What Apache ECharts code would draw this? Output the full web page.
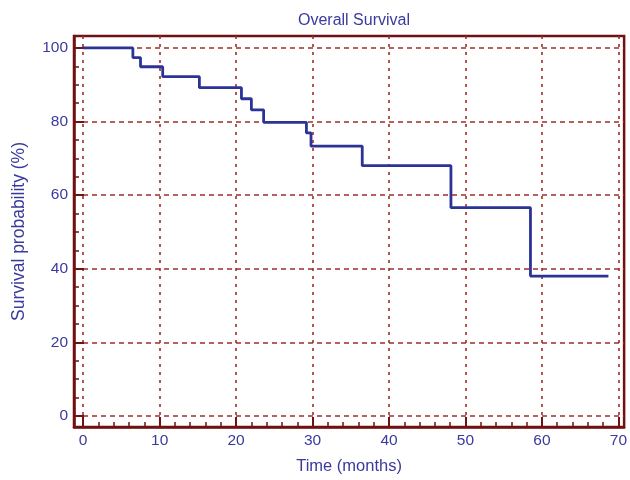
<!DOCTYPE html>
<html>
<head>
<meta charset="utf-8">
<script src="https://cdn.jsdelivr.net/npm/echarts@6/dist/echarts.min.js"></script>
<style>html,body{margin:0;padding:0;background:#fff}#c{width:630px;height:480px}</style>
</head>
<body>
<div id="c"></div>
<script>
// Kaplan-Meier step data (time in months, survival %)
var times    = [0, 6.5, 7.5, 10.4, 15.2, 20.7, 22.0, 23.6, 29.2, 29.8, 36.5, 48.1, 58.5, 68.7];
var survival = [100, 97.4, 94.9, 92.2, 89.2, 86.2, 83.2, 79.8, 76.9, 73.3, 68.0, 56.6, 38.0, 38.0];

var xTicks = [0, 10, 20, 30, 40, 50, 60, 70];
var xMinorTicks = [2, 4, 6, 8, 12, 14, 16, 18, 22, 24, 26, 28, 32, 34, 36, 38, 42, 44, 46, 48, 52, 54, 56, 58, 62, 64, 66, 68];
var yTicks = [0, 20, 40, 60, 80, 100];
var yMinorTicks = [5, 10, 15, 25, 30, 35, 45, 50, 55, 65, 70, 75, 85, 90, 95];

var titleText = 'Overall Survival';
var xName = 'Time (months)';
var yName = 'Survival probability (%)';

var textColor = '#3a3a9e';
var frameColor = '#701212';
var gridColor = '#9e2e28';
var lineColor = '#2c3396';
var font = 'Arial, "Liberation Sans", sans-serif';

var data = times.map(function (t, i) { return [t, survival[i]]; });

var chart = echarts.init(document.getElementById('c'));
chart.setOption({
  animation: false,
  backgroundColor: '#ffffff',
  title: {
    text: titleText,
    left: 349, top: 8, textAlign: 'center',
    textStyle: { color: textColor, fontSize: 16, fontWeight: 'normal', fontFamily: font }
  },
  grid: {
    left: 74, right: 4, top: 36, bottom: 52,
    show: true, borderColor: frameColor, borderWidth: 2.5, backgroundColor: 'transparent'
  },
  xAxis: [{
    type: 'value', min: -1.2, max: 70.75, position: 'bottom',
    name: xName, nameLocation: 'middle', nameGap: 31,
    nameTextStyle: { color: textColor, fontSize: 16.5, fontFamily: font },
    axisLine: { show: true, onZero: false, lineStyle: { color: frameColor, width: 2.5 } },
    axisTick: { show: true, inside: true, length: 10, customValues: xTicks, lineStyle: { color: frameColor, width: 2 } },
    axisLabel: { customValues: xTicks, color: textColor, fontSize: 15.5, fontFamily: font, margin: 6 },
    splitLine: { show: true, lineStyle: { color: gridColor, width: 1.6, type: [3, 5] } }
  }, {
    type: 'value', min: -1.2, max: 70.75, position: 'bottom',
    axisLine: { show: false, onZero: false },
    axisTick: { show: true, inside: true, length: 5, customValues: xMinorTicks, lineStyle: { color: frameColor, width: 1.5 } },
    axisLabel: { show: false },
    splitLine: { show: false }
  }],
  yAxis: [{
    type: 'value', min: -3, max: 103.25, position: 'left',
    name: yName, nameLocation: 'middle', nameGap: 46,
    nameTextStyle: { color: textColor, fontSize: 17.5, fontFamily: font },
    axisLine: { show: true, onZero: false, lineStyle: { color: frameColor, width: 2.5 } },
    axisTick: { show: true, inside: true, length: 10, customValues: yTicks, lineStyle: { color: frameColor, width: 2 } },
    axisLabel: { customValues: yTicks, color: textColor, fontSize: 15.5, fontFamily: font, margin: 6 },
    splitLine: { show: true, lineStyle: { color: gridColor, width: 1.6, type: [5, 4] } }
  }, {
    type: 'value', min: -3, max: 103.25, position: 'left',
    axisLine: { show: false, onZero: false },
    axisTick: { show: true, inside: true, length: 5, customValues: yMinorTicks, lineStyle: { color: frameColor, width: 1.5 } },
    axisLabel: { show: false },
    splitLine: { show: false }
  }],
  series: [{
    type: 'line', step: 'end', data: data, symbol: 'none',
    xAxisIndex: 0, yAxisIndex: 0,
    lineStyle: { color: lineColor, width: 2.8 }
  }]
});
</script>
</body>
</html>
